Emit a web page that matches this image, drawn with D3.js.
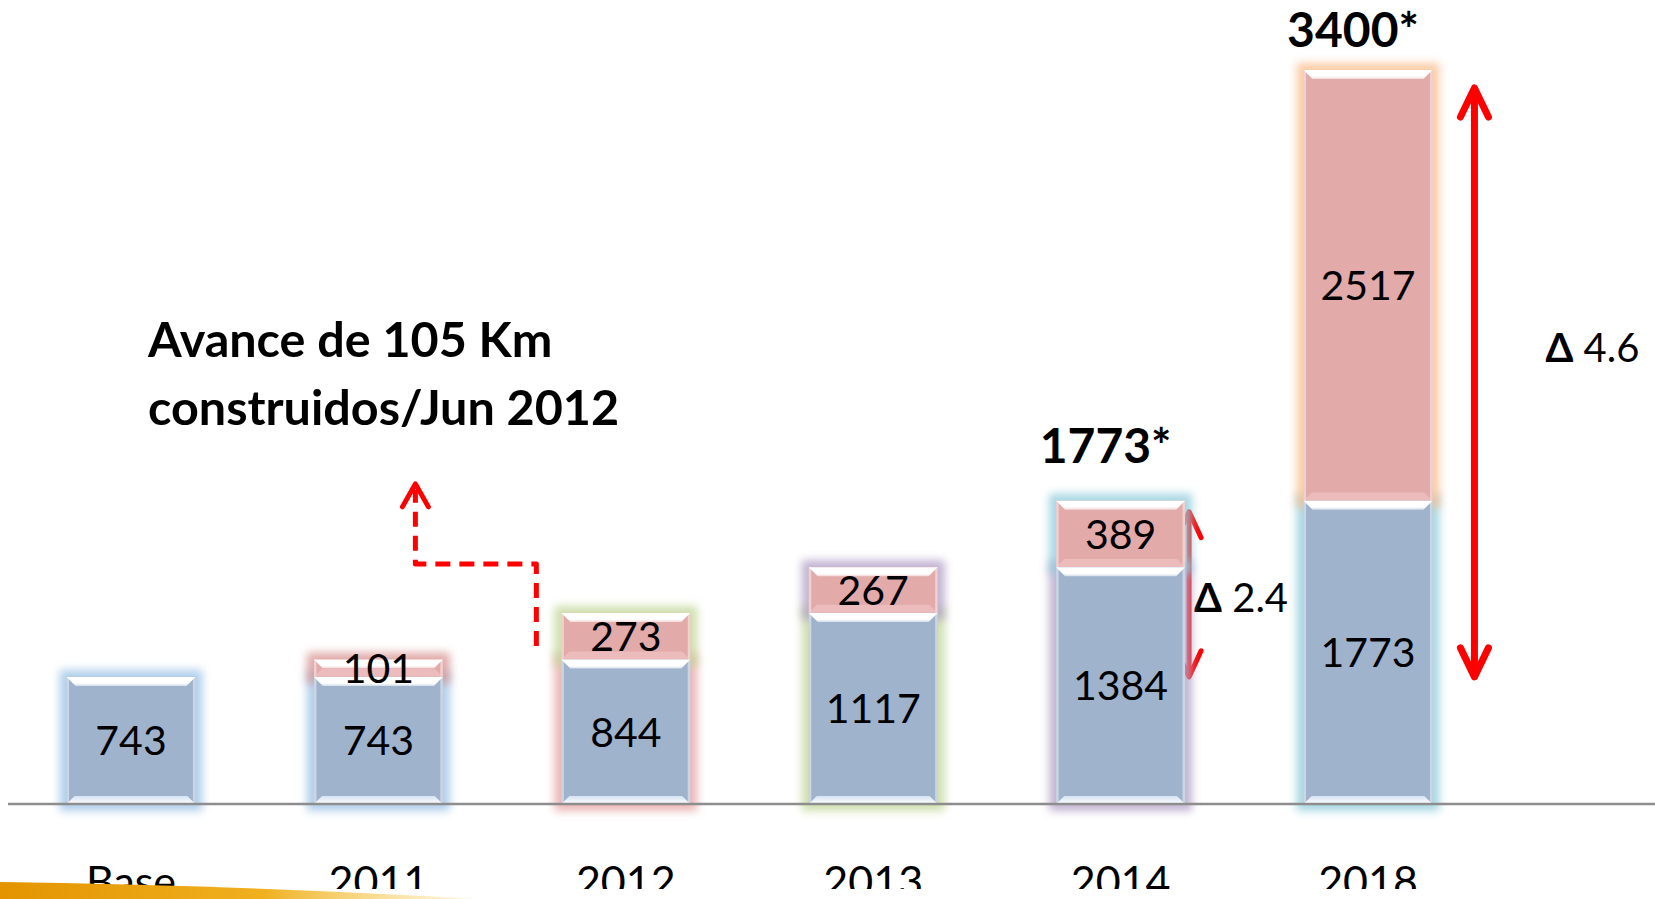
<!DOCTYPE html>
<html>
<head>
<meta charset="utf-8">
<script src="https://cdn.jsdelivr.net/npm/d3@7"></script>
<style>
  html, body { margin: 0; padding: 0; background: #fff; overflow: hidden; }
  svg { display: block; font-family: Lato, 'Open Sans', sans-serif; }
</style>
</head>
<body>
<svg id="chart" width="1655" height="899"></svg>
<script>
// values (km)
const categories = ['Base', '2011', '2012', '2013', '2014', '2018'];
const builtKm = [743, 743, 844, 1117, 1384, 1773];
const addedKm = [0, 101, 273, 267, 389, 2517];
const totalLabels = ['', '', '', '', '1773*', '3400*'];
const growthLabels = ['', '', '', '', '2.4', '4.6'];
const noteLines = ['Avance de 105 Km', 'construidos/Jun 2012'];

// styles
const blueFill = '#a0b3cd';
const redFill = '#e3aaaa';
const builtGlow = ['#9dc3e6', '#9dc3e6', '#e6a5a5', '#c4d79b', '#b3a2c7', '#92cddc'];
const addedGlow = ['none', '#d99694', '#c4d79b', '#b3a2c7', '#92cddc', '#fac090'];

const width = 1655, height = 899;
const baseY = 804;

const rows = categories.map((c, i) => ({
  cat: c, built: builtKm[i], added: addedKm[i], total: builtKm[i] + addedKm[i],
  totalLabel: totalLabels[i], growth: growthLabels[i]
}));

const svg = d3.select('#chart');
const defs = svg.append('defs');

defs.append('filter').attr('id', 'glow')
  .attr('x', '-30%').attr('y', '-30%').attr('width', '160%').attr('height', '160%')
  .append('feGaussianBlur').attr('stdDeviation', 4);

const topGrad = defs.append('linearGradient').attr('id', 'bevelTop')
  .attr('x1', 0).attr('y1', 0).attr('x2', 0).attr('y2', 1);
topGrad.append('stop').attr('offset', '0%').attr('stop-color', '#fff');
topGrad.append('stop').attr('offset', '70%').attr('stop-color', '#fff');
topGrad.append('stop').attr('offset', '100%').attr('stop-color', '#fff').attr('stop-opacity', 0.55);

const botGrad = defs.append('linearGradient').attr('id', 'bevelBottom')
  .attr('x1', 0).attr('y1', 0).attr('x2', 0).attr('y2', 1);
botGrad.append('stop').attr('offset', '0%').attr('stop-color', '#d3e2f3');
botGrad.append('stop').attr('offset', '100%').attr('stop-color', '#fff');

const swooshGrad = defs.append('linearGradient').attr('id', 'swoosh')
  .attr('x1', 0).attr('y1', 0).attr('x2', 1).attr('y2', 0);
swooshGrad.append('stop').attr('offset', '0%').attr('stop-color', '#e39400');
swooshGrad.append('stop').attr('offset', '55%').attr('stop-color', '#f0b020');
swooshGrad.append('stop').attr('offset', '100%').attr('stop-color', '#f8d870').attr('stop-opacity', 0.2);

// the slide cuts the category labels at the bottom
defs.append('clipPath').attr('id', 'labelClip')
  .append('rect').attr('x', 0).attr('y', 0).attr('width', width).attr('height', 889);

// scales
const x = d3.scaleBand()
  .domain(categories)
  .range([7.3, 1491.7])
  .paddingInner(0.479)
  .paddingOuter(0.2395);

const y = d3.scaleLinear()
  .domain([0, d3.max(rows, d => d.total)])
  .range([baseY, 70]);

const bw = x.bandwidth();
const red = '#ff0000';

// growth arrows (drawn first so the 2014 one sits partly under the bar glow)
const growthLayout = {
  '2014': { dx: 4, pad: 11, sw: 5, head: [12, 26], lx: 5, t: 0.52 },
  '2018': { dx: 42, pad: 18, sw: 7, head: [14, 29], lx: 71, t: 0.44 }
};
const arrows = svg.append('g');
rows.filter(d => d.growth).forEach(d => {
  const L = growthLayout[d.cat];
  const ax = x(d.cat) + bw + L.dx;
  const y0 = y(builtKm[0]);
  const y1 = y(d.total) + L.pad;
  const [hx, hy] = L.head;
  const g = arrows.append('g').attr('stroke', red).attr('stroke-width', L.sw)
    .attr('fill', 'none').attr('stroke-linecap', 'round').attr('stroke-linejoin', 'round');
  g.append('line').attr('x1', ax).attr('x2', ax).attr('y1', y1 + 2).attr('y2', y0 - 2).attr('stroke-linecap', 'butt');
  g.append('polyline').attr('points', [[ax - hx, y1 + hy], [ax, y1], [ax + hx, y1 + hy]].join(' '));
  g.append('polyline').attr('points', [[ax - hx, y0 - hy], [ax, y0], [ax + hx, y0 - hy]].join(' '));
  const t = svg.append('text')
    .attr('x', ax + L.lx)
    .attr('y', y1 + (y0 - y1) * L.t)
    .attr('dy', '0.36em')
    .attr('font-size', 40)
    .attr('fill', '#000');
  t.append('tspan').attr('font-weight', 700).text('\u0394');
  t.append('tspan').text(' ' + d.growth);
});

// bars
const bars = svg.append('g');

function segment(g, x0, yTop, yBot, fill, glow) {
  const h = yBot - yTop;
  if (glow !== 'none') {
    g.append('rect')
      .attr('x', x0 - 7).attr('y', yTop - 7)
      .attr('width', bw + 14).attr('height', h + 14)
      .attr('fill', glow).attr('opacity', 0.8)
      .attr('filter', 'url(#glow)');
  }
  return { x0, yTop, yBot, h, fill };
}

function paint(g, s) {
  const { x0, yTop, yBot, h, fill } = s;
  const b = Math.min(9, h / 2);
  g.append('rect').attr('x', x0).attr('y', yTop).attr('width', bw).attr('height', h).attr('fill', fill);
  // side bevels
  g.append('rect').attr('x', x0).attr('y', yTop).attr('width', 2.5).attr('height', h)
    .attr('fill', '#fff').attr('opacity', 0.45);
  g.append('rect').attr('x', x0 + bw - 2.5).attr('y', yTop).attr('width', 2.5).attr('height', h)
    .attr('fill', '#fff').attr('opacity', 0.45);
  // top bevel
  g.append('polygon')
    .attr('points', [[x0, yTop], [x0 + bw, yTop], [x0 + bw - b, yTop + b], [x0 + b, yTop + b]].join(' '))
    .attr('fill', 'url(#bevelTop)');
  // bottom bevel
  g.append('polygon')
    .attr('points', [[x0, yBot], [x0 + bw, yBot], [x0 + bw - b * 0.9, yBot - b * 0.9], [x0 + b * 0.9, yBot - b * 0.9]].join(' '))
    .attr('fill', fill === blueFill ? 'url(#bevelBottom)' : '#f2c8c8')
    .attr('opacity', fill === blueFill ? 1 : 0.6);
}

const segs = [];
rows.forEach((d, i) => {
  const g = bars.append('g');
  const x0 = x(d.cat);
  const sb = segment(g, x0, y(d.built), y(0), blueFill, builtGlow[i]);
  let sa = null;
  if (d.added > 0) sa = segment(g, x0, y(d.total), y(d.built), redFill, addedGlow[i]);
  segs.push({ g, sb, sa });
});
segs.forEach(s => {
  if (s.sa) paint(s.g, s.sa);
  paint(s.g, s.sb);
});

// value labels
const labels = svg.append('g').attr('font-size', 41).attr('text-anchor', 'middle').attr('fill', '#000');
rows.forEach(d => {
  labels.append('text')
    .attr('x', x(d.cat) + bw / 2)
    .attr('y', (y(d.built) + y(0)) / 2)
    .attr('dy', '0.36em')
    .text(d.built);
  if (d.added > 0) {
    labels.append('text')
      .attr('x', x(d.cat) + bw / 2)
      .attr('y', (y(d.total) + y(d.built)) / 2)
      .attr('dy', '0.36em')
      .text(d.added);
  }
});

// totals above bars
const totalGap = { '2014': 38, '2018': 23 };
svg.append('g').attr('font-size', 48).attr('font-weight', 700).attr('text-anchor', 'middle')
  .selectAll('text')
  .data(rows.filter(d => d.totalLabel))
  .join('text')
  .attr('x', d => x(d.cat) + bw / 2 - 15)
  .attr('y', d => y(d.total) - totalGap[d.cat])
  .text(d => d.totalLabel);

// axis line
svg.append('line')
  .attr('x1', 8).attr('x2', width)
  .attr('y1', baseY).attr('y2', baseY)
  .attr('stroke', '#8d8d8d').attr('stroke-width', 2.5);

// category labels
const xAxis = d3.axisBottom(x).tickSize(0).tickPadding(62);
const axisG = svg.append('g')
  .attr('transform', `translate(0, ${baseY})`)
  .call(xAxis);
axisG.select('.domain').remove();
axisG.selectAll('text')
  .attr('font-size', 43)
  .attr('font-family', "Lato, 'Open Sans', sans-serif")
  .attr('fill', '#000');
svg.append('g').attr('clip-path', 'url(#labelClip)').node().appendChild(axisG.node());

// orange swoosh at the bottom-left corner
svg.append('path')
  .attr('d', 'M0,882 Q230,885 480,899 L0,899 Z')
  .attr('fill', 'url(#swoosh)');

// note with dashed arrow
const note = svg.append('text')
  .attr('font-size', 48.5)
  .attr('font-weight', 700)
  .attr('fill', '#000');
note.selectAll('tspan')
  .data(noteLines)
  .join('tspan')
  .attr('x', 148)
  .attr('y', (d, i) => 357 + i * 68)
  .text(d => d);

const ax0 = x('2012') - 25;
const ax1 = x('2011') + bw / 2 + 37;
const yStart = y(rows[2].total) + 33;
const yCorner = yStart - 82;
const yTip = yCorner - 80;
svg.append('path')
  .attr('d', `M${ax0},${yStart} V${yCorner} H${ax1} V${yTip + 6}`)
  .attr('fill', 'none')
  .attr('stroke', red)
  .attr('stroke-width', 5)
  .attr('stroke-dasharray', '15 9')
  .attr('stroke-linejoin', 'round');
svg.append('polyline')
  .attr('points', [[ax1 - 13, yTip + 23], [ax1, yTip], [ax1 + 13, yTip + 23]].join(' '))
  .attr('fill', 'none')
  .attr('stroke', red)
  .attr('stroke-width', 5)
  .attr('stroke-linecap', 'round')
  .attr('stroke-linejoin', 'round');
</script>
</body>
</html>
